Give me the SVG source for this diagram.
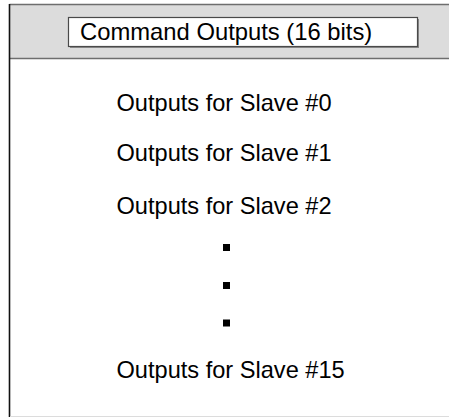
<svg xmlns="http://www.w3.org/2000/svg" width="449" height="417" viewBox="0 0 449 417">
<style>
.t{font-family:"Liberation Sans",Arial,sans-serif;font-size:23.6px;fill:#000}
.dot{fill:#000}
</style>
<rect x="0" y="0" width="449" height="417" fill="#fff"/>
<g id="header">
<rect x="9.5" y="4" width="440" height="54.5" fill="#dcdcdc"/>
<line x1="9.5" y1="4.5" x2="449" y2="4.5" stroke="#6e6e6e" stroke-width="1.5"/>
<line x1="9.5" y1="58.5" x2="449" y2="58.5" stroke="#6e6e6e" stroke-width="1.5"/>
<rect x="70" y="19" width="349" height="29" fill="#8a8a8a"/>
<rect x="68.5" y="17.5" width="349" height="29" fill="#fff" stroke="#4a4a4a" stroke-width="1.2"/>
<text class="t" x="80" y="39.5" style="font-size:23.8px">Command Outputs (16 bits)</text>
</g>
<g id="body">
<line x1="9.5" y1="4" x2="9.5" y2="417" stroke="#111" stroke-width="1.6"/>
<line x1="10" y1="416.5" x2="449" y2="416.5" stroke="#dcdcdc" stroke-width="1"/>
</g>
<g id="slave0"><text class="t" x="116.5" y="110.5">Outputs for Slave #0</text></g>
<g id="slave1"><text class="t" x="116.5" y="161">Outputs for Slave #1</text></g>
<g id="slave2"><text class="t" x="116.5" y="214">Outputs for Slave #2</text></g>
<g id="ellipsis">
<rect class="dot" x="223" y="244" width="7" height="7"/>
<rect class="dot" x="223" y="282" width="7" height="7"/>
<rect class="dot" x="223" y="319.5" width="7" height="7"/>
</g>
<g id="slave15"><text class="t" x="116.5" y="378">Outputs for Slave #15</text></g>
<g id="connectors"></g>
</svg>
